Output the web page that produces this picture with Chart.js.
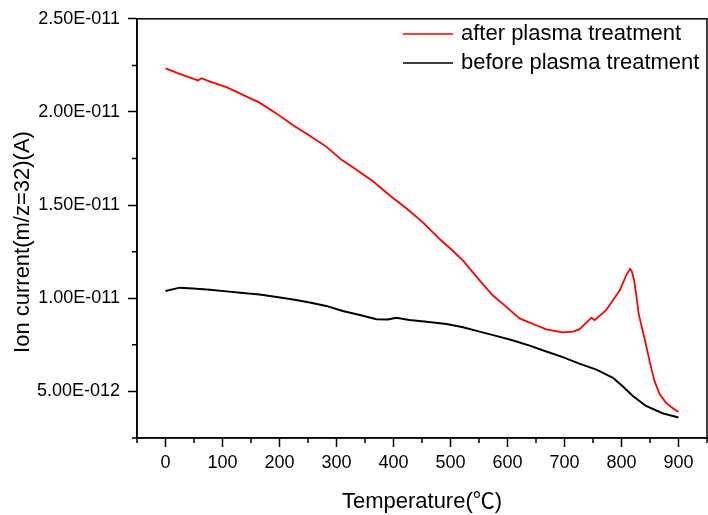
<!DOCTYPE html>
<html lang="en">
<head>
  <meta charset="utf-8">
  <title>Ion current (m/z=32) vs temperature</title>
  <script src="https://cdn.jsdelivr.net/npm/chart.js@4.4.1/dist/chart.umd.min.js"></script>
  <style>
    html, body { margin: 0; padding: 0; background: #fff; }
  </style>
</head>
<body>
  <canvas id="graph" width="708" height="515"></canvas>
  <script>
    // values
    const afterTemp = [0, 25, 57, 63, 78, 107, 136, 165, 195, 224, 253, 282, 309, 335, 364, 393, 423, 452, 481, 504,
      522, 551, 574, 598, 621, 639, 645, 668, 697, 715, 726, 747, 753, 773, 797, 808, 815, 818, 822, 826, 830,
      834, 841, 850, 858, 867, 878, 890, 900];
    const afterCurrent = [2.234e-11, 2.204e-11, 2.169e-11, 2.181e-11, 2.163e-11, 2.133e-11, 2.092e-11, 2.050e-11,
      1.991e-11, 1.929e-11, 1.872e-11, 1.814e-11, 1.743e-11, 1.690e-11, 1.628e-11, 1.553e-11, 1.482e-11,
      1.406e-11, 1.318e-11, 1.255e-11, 1.202e-11, 1.096e-11, 1.016e-11, 0.954e-11, 0.892e-11, 0.869e-11,
      0.862e-11, 0.833e-11, 0.817e-11, 0.821e-11, 0.833e-11, 0.895e-11, 0.883e-11, 0.936e-11, 1.043e-11,
      1.122e-11, 1.158e-11, 1.145e-11, 1.098e-11, 1.016e-11, 0.919e-11,
      0.865e-11, 0.777e-11, 0.653e-11, 0.555e-11, 0.484e-11, 0.440e-11, 0.410e-11, 0.390e-11];
    const beforeTemp = [0, 25, 48, 78, 107, 136, 165, 195, 224, 253, 282, 311, 341, 370, 390, 405, 428, 458, 493,
      522, 551, 580, 610, 639, 668, 697, 726, 756, 785, 802, 820, 843, 872, 900];
    const beforeCurrent = [1.039e-11, 1.057e-11, 1.052e-11, 1.046e-11, 1.037e-11, 1.028e-11, 1.020e-11, 1.007e-11,
      0.993e-11, 0.977e-11, 0.959e-11, 0.932e-11, 0.910e-11, 0.888e-11, 0.886e-11, 0.895e-11, 0.883e-11,
      0.874e-11, 0.862e-11, 0.844e-11, 0.821e-11, 0.798e-11, 0.773e-11, 0.746e-11, 0.714e-11, 0.684e-11,
      0.649e-11, 0.617e-11, 0.573e-11, 0.528e-11, 0.475e-11, 0.422e-11, 0.383e-11, 0.360e-11];

    const seriesNames = ['after plasma treatment', 'before plasma treatment'];
    const xTicks = [0, 100, 200, 300, 400, 500, 600, 700, 800, 900];
    const xMinorTicks = [-50, 50, 150, 250, 350, 450, 550, 650, 750, 850, 950];
    const yTicks = [5e-12, 1e-11, 1.5e-11, 2e-11, 2.5e-11];
    const yTickLabels = ['5.00E-012', '1.00E-011', '1.50E-011', '2.00E-011', '2.50E-011'];
    const yMinorTicks = [2.5e-12, 7.5e-12, 1.25e-11, 1.75e-11, 2.25e-11];
    const xTitle = 'Temperature(℃)';
    const yTitle = 'Ion current(m/z=32)(A)';

    const FONT = '"Liberation Sans", Arial, sans-serif';
    const TITLE_FONT = '"Liberation Sans", Arial, "Noto Sans CJK SC", sans-serif';
    Chart.defaults.font.family = FONT;
    Chart.defaults.color = '#000';

    function toPoints(xs, ys) {
      var pts = [];
      for (var i = 0; i < xs.length; i++) pts.push({ x: xs[i], y: ys[i] });
      return pts;
    }

    // frame, minor ticks, y title and legend (Origin-style)
    const extras = {
      id: 'extras',
      afterDraw(chart) {
        const ctx = chart.ctx;
        const a = chart.chartArea;
        const xs = chart.scales.x, ys = chart.scales.y;
        ctx.save();
        ctx.strokeStyle = '#000';
        ctx.lineWidth = 1.5;
        ctx.strokeRect(a.left, a.top, a.right - a.left, a.bottom - a.top);

        ctx.beginPath();
        xMinorTicks.forEach(v => {
          const px = xs.getPixelForValue(v);
          ctx.moveTo(px, a.bottom);
          ctx.lineTo(px, a.bottom + 5);
        });
        yMinorTicks.forEach(v => {
          const py = ys.getPixelForValue(v);
          ctx.moveTo(a.left, py);
          ctx.lineTo(a.left - 5, py);
        });
        ctx.stroke();

        ctx.fillStyle = '#000';
        ctx.font = '22px ' + FONT;
        ctx.textAlign = 'center';
        ctx.textBaseline = 'middle';
        ctx.save();
        ctx.translate(23, 242);
        ctx.rotate(-Math.PI / 2);
        ctx.fillText(yTitle, 0, 0);
        ctx.restore();

        ctx.textAlign = 'left';
        chart.data.datasets.forEach((ds, i) => {
          const y = 34 + i * 29;
          ctx.strokeStyle = ds.borderColor;
          ctx.lineWidth = 1.5;
          ctx.beginPath();
          ctx.moveTo(403, y);
          ctx.lineTo(453, y);
          ctx.stroke();
          ctx.fillText(ds.label, 461, y);
        });
        ctx.restore();
      }
    };

    const data = {
      datasets: [{
        label: seriesNames[0],
        data: toPoints(afterTemp, afterCurrent),
        borderColor: '#ff0000',
        borderWidth: 1.8,
        pointRadius: 0,
        tension: 0,
        fill: false
      }, {
        label: seriesNames[1],
        data: toPoints(beforeTemp, beforeCurrent),
        borderColor: '#000000',
        borderWidth: 2,
        pointRadius: 0,
        tension: 0,
        fill: false
      }]
    };

    const options = {
      responsive: false,
      animation: false,
      layout: { padding: { top: 16, right: 1, left: 0, bottom: 0 } },
      plugins: { legend: { display: false }, tooltip: { enabled: false } },
      scales: {
        x: {
          type: 'linear',
          min: -50,
          max: 950,
          afterBuildTicks: s => { s.ticks = xTicks.map(v => ({ value: v })); },
          afterFit: s => { s.height = 77; },
          ticks: { font: { size: 18 }, color: '#000', padding: 5, maxRotation: 0, autoSkip: false },
          grid: { drawOnChartArea: false, drawTicks: true, tickLength: 9, tickWidth: 1.5, tickColor: '#000' },
          border: { display: true, color: '#000', width: 1.5 },
          title: {
            display: true, text: xTitle, font: { size: 22, family: TITLE_FONT }, color: '#000',
            padding: { top: 6, bottom: 0 }
          }
        },
        y: {
          type: 'linear',
          min: 2.5e-12,
          max: 2.5e-11,
          afterBuildTicks: s => { s.ticks = yTicks.map(v => ({ value: v })); },
          afterFit: s => { s.width = 137; },
          ticks: {
            font: { size: 18 }, color: '#000', padding: 8, autoSkip: false,
            callback: (v, i) => yTickLabels[i]
          },
          grid: { drawOnChartArea: false, drawTicks: true, tickLength: 9, tickWidth: 1.5, tickColor: '#000' },
          border: { display: true, color: '#000', width: 1.5 },
          title: { display: false }
        }
      }
    };

    new Chart(document.getElementById('graph'), {
      type: 'line',
      data: data,
      options: options,
      plugins: [extras]
    });
  </script>
</body>
</html>
